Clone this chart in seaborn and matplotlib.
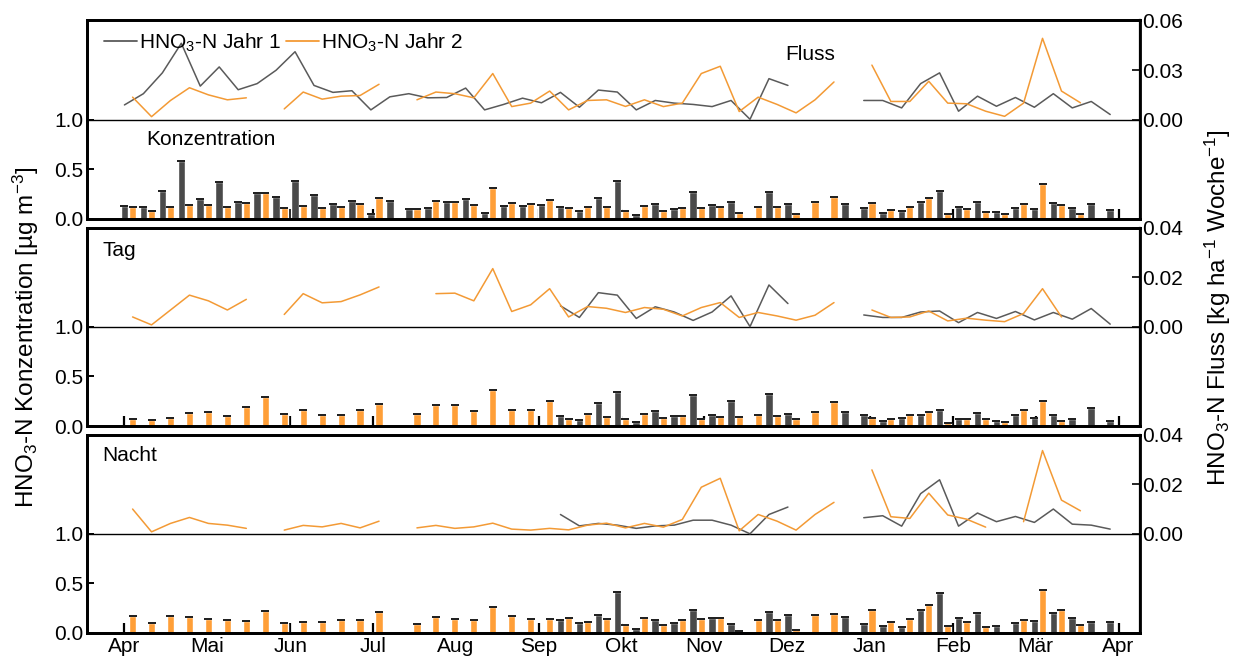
import numpy as np
import pandas as pd
import matplotlib
matplotlib.use('Agg')
import matplotlib.pyplot as plt
from matplotlib.lines import Line2D
import seaborn as sns

nan = np.nan

# weekly values, week 0 = first week of April
weeks = np.arange(53)
month_labels = ['Apr', 'Mai', 'Jun', 'Jul', 'Aug', 'Sep', 'Okt', 'Nov', 'Dez',
                'Jan', 'Feb', 'Mär', 'Apr']

# --- Fluss / Konzentration (total) ---
conc_all_y1 = [0.13, 0.12, 0.28, 0.58, 0.20, 0.37, 0.17, 0.26, 0.22, 0.38, 0.24, 0.15, 0.18,
               0.05, 0.18, 0.10, 0.11, 0.17, 0.20, 0.06, 0.13, 0.13, 0.14, 0.12, 0.08, 0.21,
               0.38, 0.04, 0.15, 0.10, 0.27, 0.14, 0.17, nan, 0.27, 0.15, nan, nan, 0.15,
               0.11, 0.06, 0.08, 0.17, 0.28, 0.12, 0.17, 0.07, 0.11, 0.10, 0.16, 0.11, 0.15, 0.09]
conc_all_y2 = [0.12, 0.08, 0.12, 0.14, 0.14, 0.12, 0.16, 0.26, 0.11, 0.13, 0.11, 0.12, 0.15,
               0.21, nan, 0.10, 0.18, 0.17, 0.14, 0.31, 0.16, 0.15, 0.19, 0.11, 0.12, 0.12,
               0.08, 0.13, 0.08, 0.11, 0.11, 0.12, 0.06, 0.12, 0.12, 0.05, 0.17, 0.22, nan,
               0.16, 0.09, 0.12, 0.21, 0.05, 0.10, 0.07, 0.05, 0.15, 0.35, 0.14, 0.05, nan, nan]
flux_all_y1 = [0.0089, 0.0157, 0.0283, 0.0462, 0.0203, 0.0319, 0.0181, 0.0218, 0.0299, 0.0411,
               0.0207, 0.0165, 0.0175, 0.0059, 0.0138, 0.0157, 0.0132, 0.0134, 0.0191, 0.0059,
               0.0092, 0.0130, 0.0102, 0.0165, 0.0075, 0.0179, 0.0167, 0.0059, 0.0116, 0.0100,
               0.0092, 0.0079, 0.0116, 0.0002, 0.0248, 0.0207, nan, nan, nan, 0.0116, 0.0116,
               0.0071, 0.0218, 0.0283, 0.0051, 0.0142, 0.0081, 0.0134, 0.0075, 0.0157, 0.0071,
               0.0110, 0.0031]
flux_all_y2 = [0.0136, 0.0018, 0.0116, 0.0193, 0.0150, 0.0120, 0.0132, nan, 0.0065, 0.0167,
               0.0124, 0.0142, 0.0146, 0.0214, nan, 0.0120, 0.0167, 0.0157, 0.0132, 0.0279,
               0.0079, 0.0100, 0.0173, 0.0059, 0.0116, 0.0120, 0.0080, 0.0120, 0.0079, 0.0100,
               0.0279, 0.0323, 0.0049, 0.0136, 0.0092, 0.0041, 0.0120, 0.0228, nan, 0.0330,
               0.0110, 0.0110, 0.0232, 0.0100, 0.0096, 0.0051, 0.0020, 0.0100, 0.0492, 0.0173,
               0.0102, nan, nan]

# --- Tag ---
conc_tag_y1 = [nan] * 23 + [0.10, 0.06, 0.23, 0.34, 0.04, 0.15, 0.10, 0.31, 0.11, 0.25, nan,
                            0.32, 0.12, nan, nan, 0.14, 0.11, 0.05, 0.08, 0.11, 0.16, 0.07,
                            0.13, 0.05, 0.11, 0.08, 0.11, 0.07, 0.18, 0.05]
conc_tag_y2 = [0.07, 0.06, 0.08, 0.13, 0.14, 0.10, 0.19, 0.29, 0.12, 0.16, 0.11, 0.11, 0.16,
               0.22, nan, 0.12, 0.21, 0.21, 0.15, 0.36, 0.16, 0.16, 0.25, 0.07, 0.12, 0.09,
               0.07, 0.12, 0.08, 0.10, 0.07, 0.09, 0.09, 0.11, 0.10, 0.07, 0.14, 0.24, nan,
               0.08, 0.07, 0.11, 0.14, 0.03, 0.07, 0.07, 0.04, 0.16, 0.25, 0.05, nan, nan, nan]
flux_tag_y1 = [nan] * 23 + [0.0085, 0.0038, 0.0138, 0.0128, 0.0034, 0.0081, 0.0060, 0.0026,
                            0.0060, 0.0125, 0.0001, 0.0169, 0.0094, nan, nan, nan, 0.0048,
                            0.0038, 0.0038, 0.0060, 0.0064, 0.0017, 0.0058, 0.0034, 0.0062,
                            0.0028, 0.0058, 0.0031, 0.0074, 0.0011]
flux_tag_y2 = [0.0040, 0.0008, 0.0068, 0.0128, 0.0105, 0.0068, 0.0111, nan, 0.0050, 0.0134,
               0.0097, 0.0102, 0.0129, 0.0161, nan, nan, 0.0134, 0.0136, 0.0105, 0.0235,
               0.0062, 0.0089, 0.0154, 0.0040, 0.0082, 0.0075, 0.0058, 0.0078, 0.0071, 0.0044,
               0.0078, 0.0098, 0.0038, 0.0058, 0.0044, 0.0027, 0.0047, 0.0098, nan, 0.0068,
               0.0038, 0.0040, 0.0064, 0.0024, 0.0035, 0.0027, 0.0021, 0.0054, 0.0154, 0.0040,
               nan, nan, nan]

# --- Nacht ---
conc_nacht_y1 = [nan] * 23 + [0.13, 0.10, 0.18, 0.41, 0.04, 0.13, 0.10, 0.23, 0.15, 0.09, nan,
                              0.21, 0.18, nan, nan, 0.16, 0.09, 0.07, 0.06, 0.23, 0.40, 0.15,
                              0.20, 0.07, 0.10, 0.12, 0.20, 0.15, 0.11, 0.11]
conc_nacht_y2 = [0.17, 0.10, 0.17, 0.16, 0.14, 0.13, 0.12, 0.22, 0.10, 0.11, 0.11, 0.13, 0.13,
                 0.21, nan, 0.09, 0.16, 0.14, 0.13, 0.26, 0.17, 0.14, 0.14, 0.15, 0.11, 0.14,
                 0.08, 0.15, 0.08, 0.13, 0.14, 0.15, 0.02, 0.13, 0.13, 0.03, 0.18, 0.19, nan,
                 0.23, 0.11, 0.14, 0.28, 0.07, 0.11, 0.06, nan, 0.13, 0.43, 0.23, 0.08, nan, nan]
flux_nacht_y1 = [nan] * 23 + [0.0078, 0.0032, 0.0042, 0.0035, 0.0022, 0.0032, 0.0035, 0.0055,
                              0.0055, 0.0035, 0.0000, 0.0078, 0.0108, nan, nan, nan, 0.0065,
                              0.0073, 0.0031, 0.0162, 0.0218, 0.0031, 0.0084, 0.0049, 0.0070,
                              0.0046, 0.0100, 0.0039, 0.0035, 0.0019]
flux_nacht_y2 = [0.0100, 0.0008, 0.0042, 0.0066, 0.0042, 0.0035, 0.0022, nan, 0.0015, 0.0034,
                 0.0028, 0.0042, 0.0024, 0.0051, nan, 0.0024, 0.0034, 0.0022, 0.0028, 0.0043,
                 0.0019, 0.0015, 0.0022, 0.0016, 0.0035, 0.0043, 0.0024, 0.0042, 0.0027, 0.0058,
                 0.0188, 0.0224, 0.0012, 0.0078, 0.0051, 0.0015, 0.0078, 0.0127, nan, 0.0258,
                 0.0069, 0.0062, 0.0164, 0.0076, 0.0059, 0.0027, nan, 0.0049, 0.0336, 0.0136,
                 0.0093, nan, nan]

panels = [
    (conc_all_y1, conc_all_y2, flux_all_y1, flux_all_y2, 0.06),
    (conc_tag_y1, conc_tag_y2, flux_tag_y1, flux_tag_y2, 0.04),
    (conc_nacht_y1, conc_nacht_y2, flux_nacht_y1, flux_nacht_y2, 0.04),
]

DARK_BAR = '#4a4a4a'
ORANGE_BAR = '#ff9f38'
DARK_LINE = '#5a5a5a'
ORANGE_LINE = '#f39a35'

sns.set_style('ticks', {'axes.edgecolor': 'black', 'text.color': 'black',
                        'xtick.color': 'black', 'ytick.color': 'black'})
plt.rcParams['font.family'] = ['Liberation Sans', 'DejaVu Sans']
plt.rcParams['font.size'] = 15
plt.rcParams['mathtext.fontset'] = 'custom'
plt.rcParams['mathtext.rm'] = 'Liberation Sans'
plt.rcParams['mathtext.it'] = 'Liberation Sans'


def draw_flux(ax, x, y, color):
    # split at gaps so the lines break where data is missing
    df = pd.DataFrame({'x': x, 'y': y})
    df['seg'] = df['y'].isna().cumsum()
    df = df.dropna()
    sns.lineplot(data=df, x='x', y='y', units='seg', estimator=None,
                 color=color, lw=1.1, ax=ax, legend=False)


fig = plt.figure(figsize=(12.38, 6.61), dpi=100)
left, width = 0.0705, 0.850
bottoms = [0.669, 0.3555, 0.0424]
height = 0.300
month_pos = np.arange(13) * 4.37
xlim = (-1.96, 53.55)

axes = []
for i, (c1, c2, f1, f2, ftop) in enumerate(panels):
    ax = fig.add_axes([left, bottoms[i], width, height])
    ax.bar(weeks, c1, width=0.40, color=DARK_BAR, zorder=2)
    ax.bar(weeks + 0.43, c2, width=0.38, color=ORANGE_BAR, zorder=2)
    ax.errorbar(weeks, c1, yerr=0, fmt='none', ecolor='#222222',
                capsize=2.7, capthick=1.4, zorder=3)
    ax.errorbar(weeks + 0.43, c2, yerr=0, fmt='none', ecolor='#222222',
                capsize=2.6, capthick=1.4, zorder=3)
    ax.axhline(1.0, color='black', lw=1.0, zorder=1)
    ax.set_ylim(0, 2)
    ax.set_yticks([0, 0.5, 1.0])
    ax.set_yticklabels(['0.0', '0.5', '1.0'])
    ax.set_xlim(*xlim)
    ax.set_xticks(month_pos)
    if i == 2:
        ax.set_xticklabels(month_labels)
    else:
        ax.set_xticklabels([])
    ax.tick_params(axis='x', direction='in', length=7, width=1.6, pad=3, color='black')
    ax.tick_params(axis='y', direction='in', length=5, width=1.4, pad=3)
    for s in ax.spines.values():
        s.set_linewidth(2.0)
        s.set_visible(True)

    ax2 = ax.twinx()
    draw_flux(ax2, weeks, f1, DARK_LINE)
    draw_flux(ax2, weeks + 0.43, f2, ORANGE_LINE)
    ax2.set_ylim(-ftop, ftop)
    ax2.set_yticks([0, ftop / 2, ftop])
    ax2.set_yticklabels([f'{v:.2f}' for v in [0, ftop / 2, ftop]])
    ax2.tick_params(axis='y', direction='in', length=6, width=1.2, pad=2)
    ax2.set_xlim(*xlim)
    ax2.set_xlabel('')
    ax2.set_ylabel('')
    for s in ax2.spines.values():
        s.set_linewidth(2.0)
    ax2.spines['right'].set_linewidth(1.6)
    axes.append((ax, ax2))

# panel annotations
ax_top = axes[0][0]
ax_top.text(0.056, 0.40, 'Konzentration', transform=ax_top.transAxes,
            ha='left', va='center')
ax_top.text(0.687, 0.83, 'Fluss', transform=ax_top.transAxes,
            ha='center', va='center')
axes[1][0].text(0.014, 0.885, 'Tag', transform=axes[1][0].transAxes,
                ha='left', va='center')
axes[2][0].text(0.014, 0.895, 'Nacht', transform=axes[2][0].transAxes,
                ha='left', va='center')

handles = [Line2D([], [], color=DARK_LINE, lw=1.3),
           Line2D([], [], color=ORANGE_LINE, lw=1.3)]
axes[0][1].legend(handles, ['HNO$_3$-N Jahr 1', 'HNO$_3$-N Jahr 2'],
                  loc='upper left', bbox_to_anchor=(-0.002, 1.04), ncol=2,
                  frameon=False, fontsize=15, handlelength=1.6,
                  handletextpad=0.1, columnspacing=0.2)

fig.text(0.021, 0.49, 'HNO$_3$-N Konzentration [µg m$^{-3}$]', rotation=90,
         ha='center', va='center', fontsize=17.5)
fig.text(0.984, 0.535, 'HNO$_3$-N Fluss [kg ha$^{-1}$ Woche$^{-1}$]', rotation=90,
         ha='center', va='center', fontsize=17.5)

fig.savefig('out.png', dpi=100)
